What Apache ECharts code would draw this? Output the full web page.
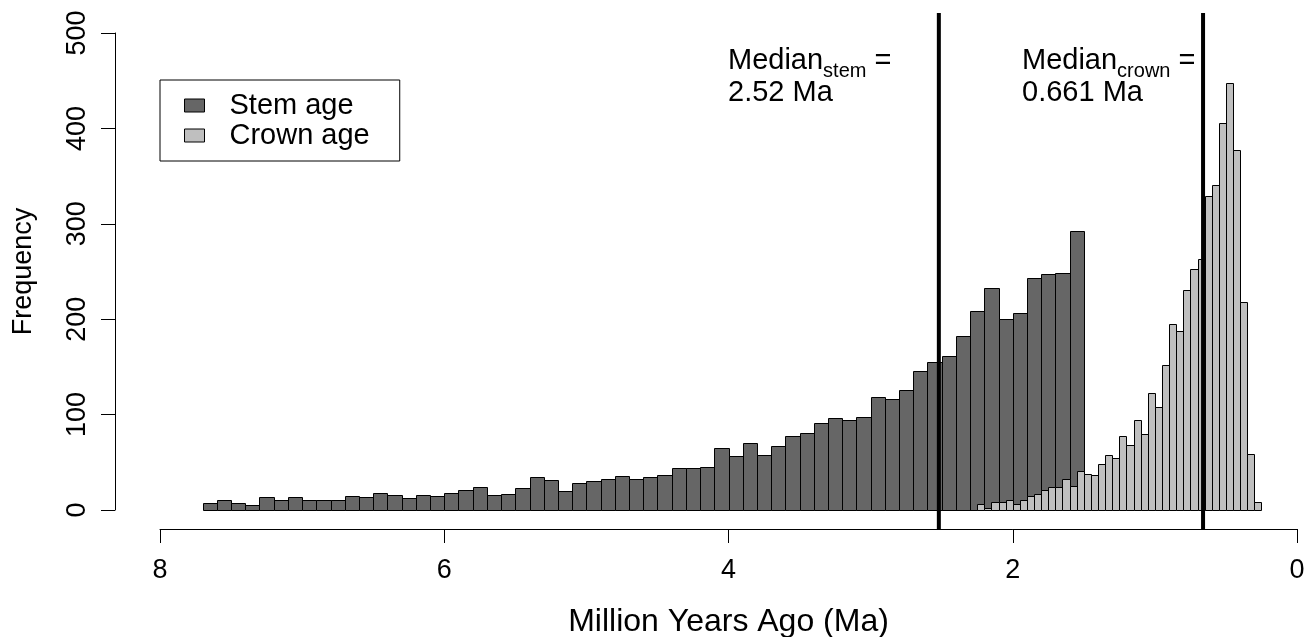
<!DOCTYPE html>
<html>
<head>
<meta charset="utf-8">
<script src="https://cdn.jsdelivr.net/npm/echarts@6/dist/echarts.min.js"></script>
<style>html,body{margin:0;padding:0;background:#fff}#c{width:1313px;height:637px}</style>
</head>
<body>
<div id="c"></div>
<script>
// ---- Data ----
// Stem age histogram: bins of 0.1 Ma, from 7.7 Ma down to 1.5 Ma
const stemBinStart = 7.7;
const stemBinWidth = 0.1;
const stemCounts = [7, 11, 7, 5, 14, 11, 14, 11, 11, 11,
                    15, 14, 18, 16, 13, 16, 15, 18, 21, 24,
                    16, 17, 23, 35, 31, 20, 28, 30, 32, 36,
                    33, 35, 37, 44, 44, 45, 65, 57, 70, 58,
                    67, 78, 81, 91, 96, 94, 97, 118, 116, 126,
                    146, 155, 161, 182, 209, 233, 200, 206, 243, 247,
                    248, 292];
// Crown age histogram: bins of 0.05 Ma, from 2.5 Ma down to 0.25 Ma
const crownBinStart = 2.5;
const crownBinWidth = 0.05;
const crownCounts = [0, 0, 0, 0, 0,
                     6, 2, 8, 8, 10, 6, 11, 15, 17, 21,
                     24, 24, 33, 25, 41, 38, 37, 48, 58, 55,
                     78, 68, 94, 80, 123, 108, 152, 195, 188, 231,
                     253, 263, 329, 341, 406, 448, 377, 218, 59, 8];
const medianStem = 2.52;
const medianCrown = 0.661;
const seriesNames = ['Stem age', 'Crown age'];
const xTicks = [0, 2, 4, 6, 8];
const yTicks = [0, 100, 200, 300, 400, 500];

// ---- Styles ----
const FONT = "'Liberation Sans', Arial, Helvetica, sans-serif";
const STEM_COLOR = '#666666';
const CROWN_COLOR = '#bfbfbf';

function bins(start, width, counts) {
  return counts.map((c, i) => {
    const hi = +(start - i * width).toFixed(4);
    const lo = +(start - (i + 1) * width).toFixed(4);
    return [lo, hi, c];
  });
}

function histItem(color) {
  return function (params, api) {
    const lo = api.value(0), hi = api.value(1), c = api.value(2);
    const a = api.coord([hi, 0]);
    const b = api.coord([lo, c]);
    const x0 = Math.round(Math.min(a[0], b[0])) + 0.5;
    const x1 = Math.round(Math.max(a[0], b[0])) + 0.5;
    const y0 = Math.round(a[1]) + 0.5;
    const y1 = Math.round(b[1]) + 0.5;
    return {
      type: 'rect',
      shape: { x: x0, y: y1, width: x1 - x0, height: y0 - y1 },
      style: { fill: color, stroke: '#000', lineWidth: 1 }
    };
  };
}

// text measuring for the subscript annotations
const mctx = document.createElement('canvas').getContext('2d');
function tw(text, size) { mctx.font = size + 'px ' + FONT; return mctx.measureText(text).width; }
function medianLabel(left, sub, valueText) {
  const big = 29, small = 20;
  const wMed = tw('Median', big);
  const wSub = tw(sub, small);
  const wSp = tw(' ', big);
  return [
    { type: 'text', left: left, top: 46, style: { text: 'Median', font: big + 'px ' + FONT, fill: '#000' } },
    { type: 'text', left: left + wMed, top: 61, style: { text: sub, font: small + 'px ' + FONT, fill: '#000' } },
    { type: 'text', left: left + wMed + wSub + wSp, top: 46, style: { text: '=', font: big + 'px ' + FONT, fill: '#000' } },
    { type: 'text', left: left, top: 78, style: { text: valueText, font: big + 'px ' + FONT, fill: '#000' } }
  ];
}

const chart = echarts.init(document.getElementById('c'), null, { renderer: 'canvas' });

const option = {
  animation: false,
  backgroundColor: '#fff',
  textStyle: { fontFamily: FONT, color: '#000' },
  grid: { left: 160, right: 16, top: 33, bottom: 127, containLabel: false, outerBoundsMode: 'none' },
  xAxis: {
    type: 'value', min: xTicks[0], max: xTicks[xTicks.length - 1], interval: 2,
    inverse: true, offset: 19,
    name: 'Million Years Ago (Ma)', nameLocation: 'middle', nameGap: 77,
    nameTextStyle: { fontSize: 32, color: '#000', fontFamily: FONT },
    axisLine: { show: true, onZero: false, lineStyle: { color: '#000', width: 1 } },
    axisTick: { show: true, length: 14, lineStyle: { color: '#000', width: 1 } },
    axisLabel: { fontSize: 27, color: '#000', margin: 28, fontFamily: FONT },
    splitLine: { show: false }
  },
  yAxis: {
    type: 'value', min: yTicks[0], max: yTicks[yTicks.length - 1], interval: 100,
    offset: 45,
    name: 'Frequency', nameLocation: 'middle', nameGap: 78, nameRotate: 90,
    nameTextStyle: { fontSize: 27, color: '#000', fontFamily: FONT },
    axisLine: { show: true, onZero: false, lineStyle: { color: '#000', width: 1 } },
    axisTick: { show: true, length: 14, lineStyle: { color: '#000', width: 1 } },
    axisLabel: { fontSize: 27, color: '#000', margin: 24, rotate: 90, fontFamily: FONT },
    splitLine: { show: false }
  },
  legend: {
    data: seriesNames,
    orient: 'vertical', left: 160, top: 80,
    padding: [11, 30, 11, 24],
    itemWidth: 20, itemHeight: 13, itemGap: 1,
    icon: 'rect',
    borderColor: '#000', borderWidth: 1, borderRadius: 0,
    backgroundColor: '#fff',
    itemStyle: { borderColor: '#000', borderWidth: 1 },
    textStyle: { fontSize: 29, lineHeight: 27, color: '#000', fontFamily: FONT, padding: [0, 0, 0, 20] },
    selectedMode: false
  },
  series: [
    {
      name: seriesNames[0], type: 'custom', z: 2,
      itemStyle: { color: STEM_COLOR, borderColor: '#000', borderWidth: 1 },
      encode: { x: [0, 1], y: 2 },
      data: bins(stemBinStart, stemBinWidth, stemCounts),
      renderItem: histItem(STEM_COLOR)
    },
    {
      name: seriesNames[1], type: 'custom', z: 3,
      itemStyle: { color: CROWN_COLOR, borderColor: '#000', borderWidth: 1 },
      encode: { x: [0, 1], y: 2 },
      data: bins(crownBinStart, crownBinWidth, crownCounts),
      renderItem: histItem(CROWN_COLOR)
    },
    {
      name: 'medians', type: 'custom', z: 4, clip: false,
      encode: { x: 0, y: 1 },
      data: [[medianStem, 0], [medianCrown, 0]],
      renderItem: function (params, api) {
        const m = api.value(0);
        const bottom = api.coord([m, yTicks[0]]);
        const top = api.coord([m, yTicks[yTicks.length - 1]]);
        return {
          type: 'line',
          shape: { x1: bottom[0], y1: bottom[1] + 19, x2: top[0], y2: top[1] - 20 },
          style: { stroke: '#000', lineWidth: 4 }
        };
      }
    }
  ],
  graphic: [].concat(
    medianLabel(728, 'stem', medianStem.toFixed(2) + ' Ma'),
    medianLabel(1022, 'crown', medianCrown.toFixed(3) + ' Ma')
  )
};
chart.setOption(option);
</script>
</body>
</html>
